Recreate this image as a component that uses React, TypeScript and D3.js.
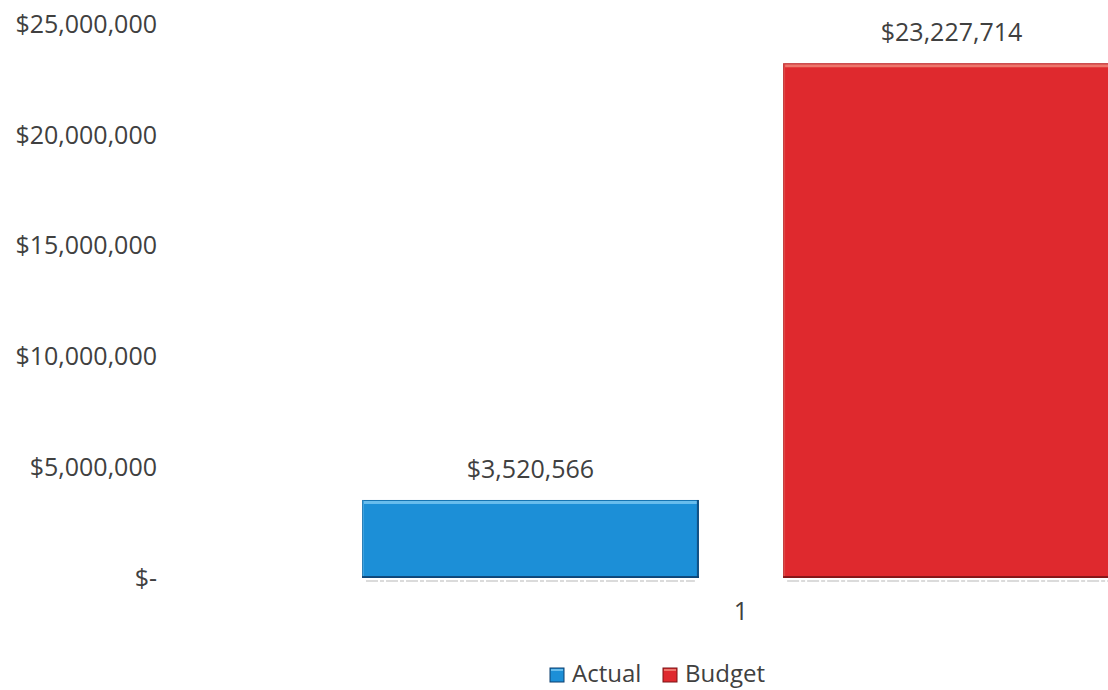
import React from "react";
import * as d3 from "d3";

const categories = ["1"];
const seriesNames = ["Actual", "Budget"];
const actualValues = [3520566];
const budgetValues = [23227714];
const yTicks = [0, 5000000, 10000000, 15000000, 20000000, 25000000];

const W = 1108;
const H = 690;
const FONT = "'Open Sans', 'Liberation Sans', sans-serif";
const TEXT = "#404040";

const colors: Record<string, { fill: string; light: string; dark: string }> = {
  Actual: { fill: "#1c8fd7", light: "#7cc8f2", dark: "#0d3f6e" },
  Budget: { fill: "#df292e", light: "#f08a7c", dark: "#7a1416" },
};

const fmtMoney = (v: number) => (v === 0 ? "$-" : "$" + d3.format(",")(v));

export default function App() {
  const y = d3.scaleLinear().domain([0, 25000000]).range([578, 24]);
  const x0 = d3.scaleBand<string>().domain(categories).range([170, 1312]).paddingInner(0).paddingOuter(0.2533);
  const x1 = d3
    .scaleBand<string>()
    .domain(seriesNames)
    .range([0, x0.bandwidth()])
    .paddingInner(0.2);

  const rows = categories.map((c, i) => ({
    cat: c,
    values: [
      { name: "Actual", value: actualValues[i] },
      { name: "Budget", value: budgetValues[i] },
    ],
  }));

  return (
    <svg width={W} height={H} style={{ position: "absolute", left: 0, top: 0, background: "#fff" }}>
      {/* y axis labels */}
      {yTicks.map((t) => (
        <text
          key={t}
          x={157}
          y={y(t)}
          dy="0.35em"
          textAnchor="end"
          fontFamily={FONT}
          fontSize={25}
          fill={TEXT}
        >
          {fmtMoney(t)}
        </text>
      ))}

      {/* bars */}
      {rows.map((r) => (
        <g key={r.cat} transform={`translate(${x0(r.cat)},0)`}>
          {r.values.map((v) => {
            const bx = x1(v.name)!;
            const bw = x1.bandwidth();
            const by = y(v.value);
            const bh = y(0) - by;
            const c = colors[v.name];
            return (
              <g key={v.name}>
                <line
                  x1={bx + 4}
                  x2={bx + bw - 4}
                  y1={y(0) + 3}
                  y2={y(0) + 3}
                  stroke="#9a9a9a"
                  strokeWidth={1.2}
                  strokeDasharray="12 2 4 2"
                  opacity={0.7}
                />
                <rect x={bx} y={by} width={bw} height={bh} fill={c.fill} />
                {/* bevel: top highlight */}
                <rect x={bx + 2} y={by + 1} width={bw - 4} height={3} fill={c.light} opacity={0.8} />
                {/* bevel: left light */}
                <rect x={bx} y={by} width={2} height={bh} fill={c.light} opacity={0.35} />
                {/* bevel: right dark */}
                <rect x={bx + bw - 2} y={by} width={2} height={bh} fill={c.dark} opacity={0.75} />
                {/* bevel: bottom dark */}
                <rect x={bx} y={by + bh - 2} width={bw} height={2} fill={c.dark} opacity={0.85} />
                <rect
                  x={bx + 0.5}
                  y={by + 0.5}
                  width={bw - 1}
                  height={bh - 1}
                  fill="none"
                  stroke={c.dark}
                  strokeOpacity={0.35}
                  strokeWidth={1}
                />
                <text
                  x={bx + bw / 2}
                  y={by - 22}
                  textAnchor="middle"
                  fontFamily={FONT}
                  fontSize={25}
                  fill={TEXT}
                >
                  {fmtMoney(v.value)}
                </text>
              </g>
            );
          })}
          <text
            x={x0.bandwidth() / 2}
            y={620}
            textAnchor="middle"
            fontFamily={FONT}
            fontSize={25}
            fill={TEXT}
          >
            {r.cat}
          </text>
        </g>
      ))}

      {/* legend */}
      {seriesNames.map((s, i) => {
        const lx = i === 0 ? 550 : 663;
        const c = colors[s];
        return (
          <g key={s} transform={`translate(${lx},668)`}>
            <rect x={0} y={0} width={14} height={14} fill={c.fill} stroke={c.dark} strokeWidth={1} />
            <rect x={1} y={1} width={12} height={2} fill={c.light} opacity={0.8} />
            <text x={22} y={14} fontFamily={FONT} fontSize={24} fill={TEXT}>
              {s}
            </text>
          </g>
        );
      })}
    </svg>
  );
}
